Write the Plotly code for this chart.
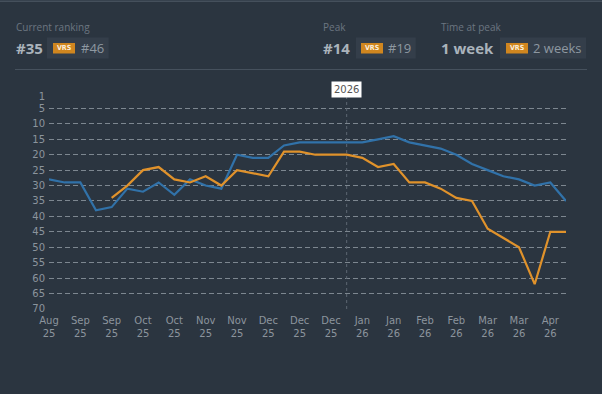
import plotly.graph_objects as go

# ---------------- data ----------------
week_index = list(range(34))
team_rank = [28, 29, 29, 38, 37, 31, 32, 29, 33, 28, 30, 31, 20, 21, 21, 17, 16,
             16, 16, 16, 16, 15, 14, 16, 17, 18, 20, 23, 25, 27, 28, 30, 29, 35]
vrs_rank = [None, None, None, None, 34, 30, 25, 24, 28, 29, 27, 30, 25, 26, 27, 19, 19,
            20, 20, 20, 21, 24, 23, 29, 29, 31, 34, 35, 44, 47, 50, 62, 45, 45]
x_tick_index = list(range(0, 34, 2))
x_tick_labels = ["Aug<br>25", "Sep<br>25", "Sep<br>25", "Oct<br>25", "Oct<br>25",
                 "Nov<br>25", "Nov<br>25", "Dec<br>25", "Dec<br>25", "Dec<br>25",
                 "Jan<br>26", "Jan<br>26", "Feb<br>26", "Feb<br>26", "Mar<br>26",
                 "Mar<br>26", "Apr<br>26"]
y_label_ticks = [1, 5, 10, 15, 20, 25, 30, 35, 40, 45, 50, 55, 60, 65, 70]
y_grid_ticks = [5, 10, 15, 20, 25, 30, 35, 40, 45, 50, 55, 60, 65]
year_marker_index = 19
year_marker_label = "2026"

header_titles = ["Current ranking", "Peak", "Time at peak"]
header_values = ["#35", "#14", "1 week"]
header_vrs_values = ["#46", "#19", "2 weeks"]

# ---------------- styling ----------------
W, H = 602, 394
ML, MR, MT, MB = 49, 36, 96, 85
BG = "#2b3540"
BOX = "#343e4a"
ORANGE = "#e0922b"
BLUE = "#3172a9"
GRID = "#7d8790"
TICK = "#8b949d"

PW = W - ML - MR
PH = H - MT - MB


def px(xp):
    return (xp - ML) / PW


def py(yp):
    return (H - MB - yp) / PH


fig = go.Figure()
# invisible trace that activates the labelled overlay axis
fig.add_trace(go.Scatter(x=week_index, y=team_rank, yaxis="y2", mode="none",
                         hoverinfo="skip", showlegend=False))
fig.add_trace(go.Scatter(x=week_index, y=team_rank, mode="lines",
                         line=dict(color=BLUE, width=2.2), hoverinfo="skip",
                         showlegend=False))
fig.add_trace(go.Scatter(x=week_index, y=vrs_rank, mode="lines",
                         line=dict(color=ORANGE, width=2.2), hoverinfo="skip",
                         showlegend=False))

shapes = []
annotations = []

# header lines
shapes.append(dict(type="line", xref="paper", yref="paper", x0=px(0), x1=px(W),
                   y0=py(1.2), y1=py(1.2), line=dict(color="#45505c", width=1.5)))
shapes.append(dict(type="line", xref="paper", yref="paper", x0=px(15), x1=px(587),
                   y0=py(69.5), y1=py(69.5), line=dict(color="#46515d", width=1)))

# header blocks: (title x, value x, box x0, box x1, badge x0, vrs text x)
blocks = [
    (15, 15, 47, 108.6, 53, 79.5),
    (321.7, 321.7, 356, 415.7, 361, 387),
    (440.3, 440.3, 500, 586, 506, 532),
]
for i, (tx, vx, bx0, bx1, gx0, vtx) in enumerate(blocks):
    annotations.append(dict(text=header_titles[i], xref="paper", yref="paper",
                            x=px(tx - 1), y=py(26.7), xanchor="left", yanchor="middle",
                            showarrow=False,
                            font=dict(family="Open Sans", size=10, color="#6b7580")))
    annotations.append(dict(text="<b>" + header_values[i] + "</b>", xref="paper", yref="paper",
                            x=px(vx - 1), y=py(48), xanchor="left", yanchor="middle",
                            showarrow=False,
                            font=dict(family="Open Sans", size=15, color="#aab3bb")))
    shapes.append(dict(type="rect", xref="paper", yref="paper", x0=px(bx0), x1=px(bx1),
                       y0=py(37.5), y1=py(58.5), fillcolor=BOX, line=dict(width=0),
                       layer="below"))
    shapes.append(dict(type="rect", xref="paper", yref="paper", x0=px(gx0), x1=px(gx0 + 22),
                       y0=py(43), y1=py(53.5), fillcolor="#d0861f", line=dict(width=0)))
    annotations.append(dict(text="<b>VRS</b>", xref="paper", yref="paper",
                            x=px(gx0 + 11), y=py(48.3), xanchor="center", yanchor="middle",
                            showarrow=False,
                            font=dict(family="DejaVu Sans Condensed", size=7, color="#fbeedd")))
    annotations.append(dict(text=header_vrs_values[i], xref="paper", yref="paper",
                            x=px(vtx - 1), y=py(48), xanchor="left", yanchor="middle",
                            showarrow=False,
                            font=dict(family="Open Sans", size=13, color="#8e98a1")))

# year marker
shapes.append(dict(type="line", xref="x", yref="paper", x0=year_marker_index,
                   x1=year_marker_index, y0=0, y1=1,
                   line=dict(color="#5d6771", width=1, dash="3px,3px")))
annotations.append(dict(text=year_marker_label, xref="x", yref="paper",
                        x=year_marker_index, y=py(89), xanchor="center", yanchor="middle",
                        showarrow=False, bgcolor="#ffffff", borderpad=2,
                        font=dict(family="DejaVu Sans", size=10, color="#555555")))

fig.update_layout(
    width=W, height=H,
    margin=dict(l=ML, r=MR, t=MT, b=MB),
    paper_bgcolor=BG, plot_bgcolor=BG,
    shapes=shapes, annotations=annotations,
    xaxis=dict(range=[0, 33], tickmode="array", tickvals=x_tick_index,
               ticktext=x_tick_labels, showgrid=False, zeroline=False,
               showline=False, ticks="", tickangle=0, ticklabelstandoff=4,
               tickfont=dict(family="DejaVu Sans", size=10, color=TICK)),
    yaxis=dict(range=[70.05, 0.95], tickmode="array", tickvals=y_grid_ticks,
               showticklabels=False, showgrid=True, gridcolor=GRID, gridwidth=1,
               griddash="5px,3px", zeroline=False, showline=False, ticks=""),
    yaxis2=dict(range=[70.05, 0.95], overlaying="y", side="left", tickmode="array",
                tickvals=y_label_ticks, ticktext=[str(v) for v in y_label_ticks],
                showgrid=False, zeroline=False, showline=False, ticks="",
                ticklabelstandoff=3,
                tickfont=dict(family="DejaVu Sans", size=10, color=TICK)),
    font=dict(family="DejaVu Sans"),
)

fig.write_html("out.html",
               config={"displayModeBar": False},
               post_script="document.body.style.margin='0';"
                           "document.body.style.background='" + BG + "';")
